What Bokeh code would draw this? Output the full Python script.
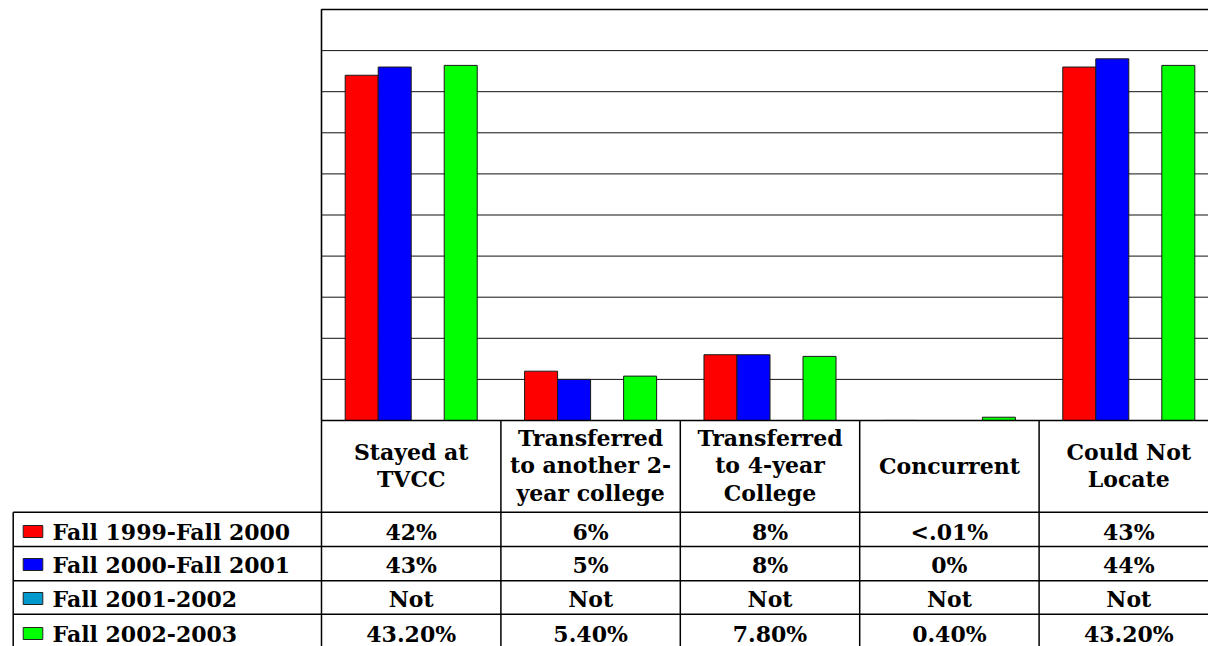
from bokeh.plotting import figure
from bokeh.models import Range1d, ColumnDataSource
from bokeh.core.properties import value
from bokeh.embed import file_html
from bokeh.resources import INLINE
import numpy as np

# ---------------- data ----------------
categories = ["Stayed at\nTVCC", "Transferred\nto another 2-\nyear college",
              "Transferred\nto 4-year\nCollege", "Concurrent", "Could Not\nLocate"]
series_names = ["Fall 1999-Fall 2000", "Fall 2000-Fall 2001",
                "Fall 2001-2002", "Fall 2002-2003"]
series_colors = ["#FF0000", "#0000FF", "#0099CC", "#00FF00"]

values_1999 = [42, 6, 8, 0.01, 43]
values_2000 = [43, 5, 8, 0, 44]
values_2001 = [np.nan, np.nan, np.nan, np.nan, np.nan]   # not available
values_2002 = [43.2, 5.4, 7.8, 0.4, 43.2]

labels_1999 = ["42%", "6%", "8%", "<.01%", "43%"]
labels_2000 = ["43%", "5%", "8%", "0%", "44%"]
labels_2001 = ["Not", "Not", "Not", "Not", "Not"]
labels_2002 = ["43.20%", "5.40%", "7.80%", "0.40%", "43.20%"]

grid_values = [5, 10, 15, 20, 25, 30, 35, 40, 45]
y_max = 50

all_values = [values_1999, values_2000, values_2001, values_2002]
all_labels = [labels_1999, labels_2000, labels_2001, labels_2002]

# ---------------- geometry ----------------
W, H = 1208, 646
plot_left_px = 321.0          # left edge of plot area (canvas px)
cat_px = 179.4                # width of one category (px)
plot_top_px = 9.0
plot_bottom_px = 420.0
px_per_unit = (plot_bottom_px - plot_top_px) / y_max

x_start = -plot_left_px / cat_px
x_end = (W - plot_left_px) / cat_px
y_start = -(H - plot_bottom_px) / px_per_unit
y_end = y_max + plot_top_px / px_per_unit

p = figure(width=W, height=H, output_backend="svg", toolbar_location=None,
           x_range=Range1d(x_start, x_end), y_range=Range1d(y_start, y_end),
           x_axis_location=None, y_axis_location=None, min_border=0)
p.grid.visible = False
p.outline_line_color = None
p.background_fill_color = "white"
p.border_fill_color = "white"
p.extra_x_ranges = {"px": Range1d(0, W)}
p.extra_y_ranges = {"px": Range1d(H, 0)}

FONT = value("DejaVu Serif")
FS = "22px"

n_cat = len(categories)
centers = np.arange(n_cat) + 0.5

# gridlines
p.segment(x0=[0] * len(grid_values), x1=[x_end + 1] * len(grid_values),
          y0=grid_values, y1=grid_values, line_color="#111111", line_width=1)

# bars
bar_w = 0.184
offsets = [-1.5 * bar_w, -0.5 * bar_w, 0.5 * bar_w, 1.5 * bar_w]
for vals, col, off in zip(all_values, series_colors, offsets):
    src = ColumnDataSource(dict(x=centers + off, top=vals))
    p.vbar(x="x", top="top", bottom=0, width=bar_w, source=src,
           fill_color=col, line_color="#1a1a1a", line_width=1)

# plot area border
p.quad(left=[0], right=[x_end + 1], bottom=[0], top=[y_max],
       fill_color=None, line_color="black", line_width=1.6)

# ---------------- data table ----------------
row_edges = [511.7, 546.0, 580.3, 613.7]
row_text_y = [531.0, 564.0, 598.0, 633.0]
legend_left = 12.7
header_y = 465.0

# horizontal table lines
p.segment(x0=[legend_left] * 4, x1=[W + 5] * 4, y0=row_edges, y1=row_edges,
          x_range_name="px", y_range_name="px", line_color="black", line_width=1.5)
# legend column left border
p.segment(x0=[legend_left], x1=[legend_left], y0=[row_edges[0]], y1=[H + 5],
          x_range_name="px", y_range_name="px", line_color="black", line_width=1.5)
# category separators (table columns)
seps = list(range(0, n_cat))
p.segment(x0=seps, x1=seps, y0=[plot_bottom_px] * len(seps), y1=[H + 5] * len(seps),
          y_range_name="px", line_color="black", line_width=1.5)

# header texts
p.text(x=centers, y=[header_y] * n_cat, text=categories, y_range_name="px",
       text_align="center", text_baseline="middle", text_font=FONT,
       text_font_style="bold", text_font_size=FS, text_line_height=1.05,
       text_color="black")

# legend swatches + names
p.rect(x=[32.5] * 4, y=row_text_y, width=19.6, height=12,
       x_range_name="px", y_range_name="px",
       fill_color=series_colors, line_color="#222222", line_width=1)
p.text(x=[52.0] * 4, y=row_text_y, text=series_names,
       x_range_name="px", y_range_name="px",
       text_align="left", text_baseline="middle", text_font=FONT,
       text_font_style="bold", text_font_size=FS, text_color="black")

# values
for labs, ty in zip(all_labels, row_text_y):
    p.text(x=centers, y=[ty] * n_cat, text=labs, y_range_name="px",
           text_align="center", text_baseline="middle", text_font=FONT,
           text_font_style="bold", text_font_size=FS, text_color="black")

open("out.html", "w").write(file_html(p, INLINE))
